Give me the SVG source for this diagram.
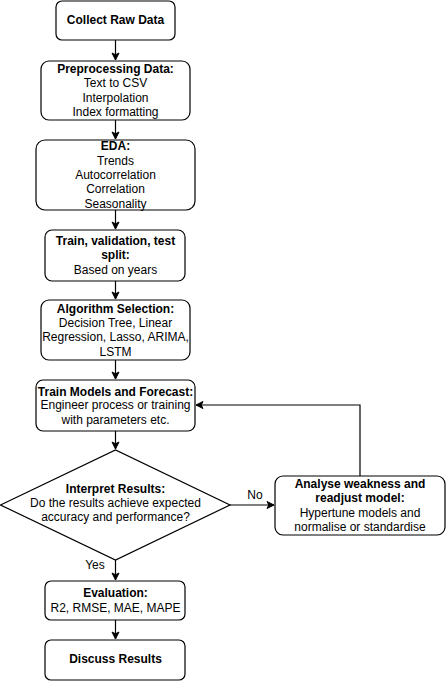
<svg xmlns="http://www.w3.org/2000/svg" width="447" height="681" viewBox="0 0 447 681">
<defs>
<marker id="ah" markerWidth="10" markerHeight="10" refX="8" refY="5" orient="auto" markerUnits="userSpaceOnUse">
<path d="M1,1.5 L8,5 L1,8.5 L2.8,5 Z" fill="#000" stroke="#000" stroke-width="1"/>
</marker>
</defs>
<style>
.box{fill:#fff;stroke:#000;stroke-width:1.2}
text{font-family:"Liberation Sans",Arial,sans-serif;font-size:12px;fill:#000;text-anchor:middle}
.b{font-weight:bold}
.c{fill:none;stroke:#000;stroke-width:1.2}
</style>
<rect width="447" height="681" fill="#fff"/>
<g id="connectors">
<path class="c" d="M115.5,40 V60" marker-end="url(#ah)"/>
<path class="c" d="M115.5,120 V139" marker-end="url(#ah)"/>
<path class="c" d="M115.5,210 V229" marker-end="url(#ah)"/>
<path class="c" d="M115.5,281 V299" marker-end="url(#ah)"/>
<path class="c" d="M115.5,360 V379" marker-end="url(#ah)"/>
<path class="c" d="M115.5,431 V449" marker-end="url(#ah)"/>
<path class="c" d="M230,505 H274" marker-end="url(#ah)"/>
<path class="c" d="M360,476 V405 H196" marker-end="url(#ah)"/>
<path class="c" d="M115.5,560 V580" marker-end="url(#ah)"/>
<path class="c" d="M115.5,620 V639" marker-end="url(#ah)"/>
<text x="255" y="499">No</text>
<text x="95" y="569">Yes</text>
</g>
<g id="collect">
<rect class="box" x="56" y="1" width="119" height="39" rx="6"/>
<text class="b" x="115.5" y="24">Collect Raw Data</text>
</g>
<g id="preprocess">
<rect class="box" x="41" y="61" width="149" height="59" rx="8"/>
<text class="b" x="115.5" y="73">Preprocessing Data:</text>
<text x="115.5" y="87">Text to CSV</text>
<text x="115.5" y="102">Interpolation</text>
<text x="115.5" y="116">Index formatting</text>
</g>
<g id="eda">
<rect class="box" x="36" y="140" width="159" height="70" rx="9"/>
<text class="b" x="115.5" y="150">EDA:</text>
<text x="115.5" y="165">Trends</text>
<text x="115.5" y="179">Autocorrelation</text>
<text x="115.5" y="193">Correlation</text>
<text x="115.5" y="208">Seasonality</text>
</g>
<g id="split">
<rect class="box" x="45" y="230" width="140" height="51" rx="7"/>
<text class="b" x="115.5" y="245">Train, validation, test</text>
<text class="b" x="115.5" y="259">split:</text>
<text x="115.5" y="274">Based on years</text>
</g>
<g id="algo">
<rect class="box" x="41" y="300" width="149" height="60" rx="8"/>
<text class="b" x="115.5" y="313">Algorithm Selection:</text>
<text x="115.5" y="327">Decision Tree, Linear</text>
<text x="115.5" y="341">Regression, Lasso, ARIMA,</text>
<text x="115.5" y="356">LSTM</text>
</g>
<g id="train">
<rect class="box" x="36" y="380" width="159" height="51" rx="7"/>
<text class="b" x="115.5" y="396">Train Models and Forecast:</text>
<text x="115.5" y="409">Engineer process or training</text>
<text x="115.5" y="424">with parameters etc.</text>
</g>
<g id="interpret">
<polygon class="box" points="0.5,505 115.5,450 230,505 115.5,560"/>
<text class="b" x="115.5" y="493">Interpret Results:</text>
<text x="115.5" y="507">Do the results achieve expected</text>
<text x="115.5" y="521">accuracy and performance?</text>
</g>
<g id="analyse">
<rect class="box" x="275" y="476" width="170" height="59" rx="8"/>
<text class="b" x="360" y="488">Analyse weakness and</text>
<text class="b" x="360" y="502">readjust model:</text>
<text x="360" y="517">Hypertune models and</text>
<text x="360" y="531">normalise or standardise</text>
</g>
<g id="evaluation">
<rect class="box" x="45" y="581" width="140" height="39" rx="6"/>
<text class="b" x="115.5" y="597">Evaluation:</text>
<text x="115.5" y="612">R2, RMSE, MAE, MAPE</text>
</g>
<g id="discuss">
<rect class="box" x="45" y="640" width="140" height="40" rx="6"/>
<text class="b" x="115.5" y="663">Discuss Results</text>
</g>
</svg>
